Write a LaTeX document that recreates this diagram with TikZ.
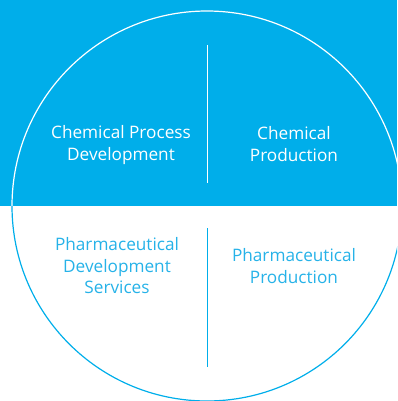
\documentclass[tikz,border=0pt]{standalone}
\usepackage{fontspec}
\setmainfont{Open Sans}
\usepackage{xcolor}
\usepackage{tikz}
\usetikzlibrary{calc, positioning}

\definecolor{lonzablue}{RGB}{0,174,234}
\definecolor{lonzatext}{RGB}{38,178,232}

\begin{document}
\begin{tikzpicture}[x=1pt, y=-1pt,
    label/.style={align=center, font=\fontsize{17.2}{21.5}\selectfont, inner sep=0pt},
    divider/.style={line width=0.9pt}]
                % 1. Khung va nen xanh
                \useasboundingbox (0,0) rectangle (397,401);
                \fill[lonzablue] (0,0) rectangle (397,206);
                \coordinate (O) at (207,206);
                
                % 2. Duong tron
                \begin{scope}
                    \clip (0,0) rectangle (397,206);
                    \draw[white, line width=1.2pt] (O) circle (195);
                \end{scope}
                \begin{scope}
                    \clip (0,206) rectangle (397,401);
                    \draw[lonzablue, line width=1.2pt] (O) circle (195);
                \end{scope}
                
                % 3. Duong phan chia
                \coordinate (t1) at (207,45);
                \coordinate (t2) at (207,183);
                \coordinate (b1) at (207,228);
                \coordinate (b2) at (207,367);
                \draw[divider, white] (t1) -- (t2);
                \draw[divider, lonzablue] (b1) -- (b2);
                
                % 4. Chu
                \node[label, white] (cpd) at (121,145) {Chemical Process\\Development};
                \node[label, white] (cp) at (294,144) {Chemical\\Production};
                \node[label, lonzatext] (pds) at (117,266) {Pharmaceutical\\Development\\Services};
                \node[label, lonzatext] (pp) at (294,266) {Pharmaceutical\\Production};
\end{tikzpicture}
\end{document}
